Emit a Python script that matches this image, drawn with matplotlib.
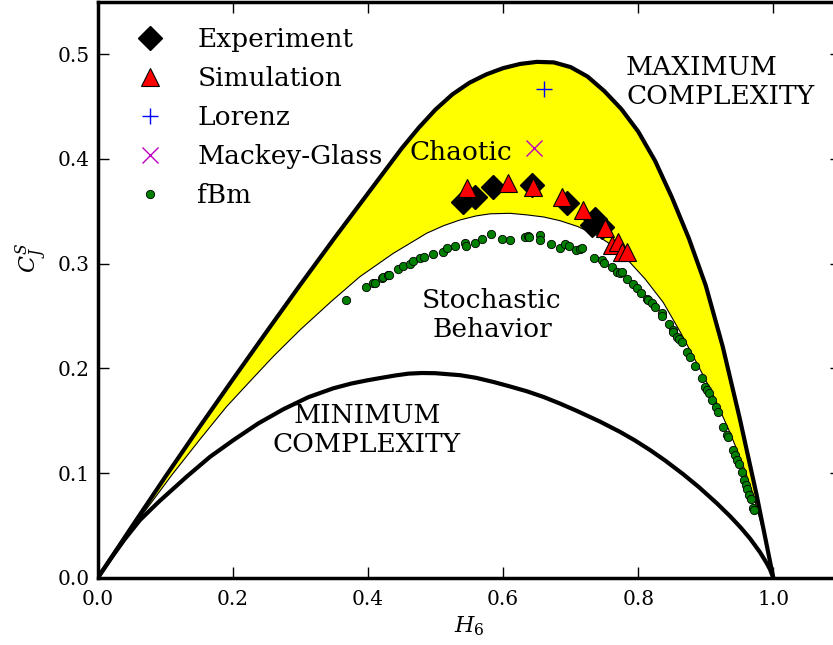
import matplotlib
matplotlib.use("Agg")
import matplotlib.pyplot as plt
import numpy as np

plt.rcParams["font.family"] = "serif"
plt.rcParams["font.serif"] = ["DejaVu Serif"]
plt.rcParams["mathtext.fontset"] = "dejavuserif"

# theoretical bounds of the complexity-entropy plane
max_h = [0.0, 0.05, 0.10, 0.15, 0.20, 0.25, 0.30, 0.35, 0.40, 0.45, 0.475, 0.50, 0.525,
         0.55, 0.575, 0.60, 0.625, 0.65, 0.675, 0.70, 0.725, 0.75, 0.775, 0.80, 0.825,
         0.85, 0.875, 0.90, 0.925, 0.95, 0.975, 1.0]
max_c = [0.0, 0.0485, 0.0965, 0.1435, 0.1895, 0.235, 0.280, 0.324, 0.367, 0.410, 0.4295,
         0.4470, 0.4615, 0.4725, 0.4805, 0.4865, 0.4905, 0.4925, 0.4920, 0.4875, 0.4785,
         0.4645, 0.4475, 0.426, 0.398, 0.363, 0.324, 0.279, 0.221, 0.153, 0.080, 0.0]

min_h = [0.0, 0.02, 0.04, 0.0626, 0.09, 0.1317, 0.166, 0.2007, 0.2377, 0.2747, 0.3117,
         0.3487, 0.375, 0.398, 0.42, 0.44, 0.46, 0.48, 0.50, 0.5366, 0.56, 0.586, 0.61,
         0.635, 0.66, 0.684, 0.71, 0.7435, 0.7731, 0.795, 0.8175, 0.84, 0.8668, 0.89,
         0.916, 0.936, 0.952, 0.9655, 0.98, 0.99, 0.995, 1.0]
min_c = [0.0, 0.019, 0.037, 0.0553, 0.0725, 0.0967, 0.1155, 0.1315, 0.1475, 0.161, 0.1725,
         0.181, 0.1855, 0.1885, 0.191, 0.1932, 0.195, 0.1956, 0.1954, 0.1935, 0.191, 0.187,
         0.1828, 0.1782, 0.1727, 0.1665, 0.1592, 0.1492, 0.1394, 0.1313, 0.1221, 0.112,
         0.0989, 0.0866, 0.0715, 0.0589, 0.0479, 0.0376, 0.0248, 0.0143, 0.0083, 0.0]

# fBm curve (lower edge of the chaotic band)
fbm_h = [0.0, 0.0675, 0.11, 0.151, 0.19, 0.223, 0.26, 0.30, 0.345, 0.388, 0.4375, 0.487,
         0.512, 0.536, 0.56, 0.5807, 0.61, 0.635, 0.66, 0.684, 0.71, 0.7386, 0.76, 0.783,
         0.81, 0.837, 0.862, 0.886, 0.91, 0.935, 0.955, 0.970, 0.985, 1.0]
fbm_c = [0.0, 0.0617, 0.0985, 0.132, 0.163, 0.186, 0.2115, 0.237, 0.2635, 0.2875, 0.3098,
         0.329, 0.3362, 0.3416, 0.3455, 0.3475, 0.348, 0.3465, 0.3445, 0.341, 0.3355, 0.327,
         0.318, 0.3045, 0.2855, 0.263, 0.235, 0.206, 0.176, 0.140, 0.108, 0.080, 0.044, 0.0]

exp_h = [0.541, 0.5585, 0.5856, 0.6424, 0.6942, 0.731, 0.736, 0.746]
exp_c = [0.359, 0.3638, 0.3734, 0.375, 0.3575, 0.3368, 0.343, 0.335]

sim_h = [0.547, 0.6078, 0.6439, 0.6868, 0.7188, 0.751, 0.7608, 0.7706, 0.7756, 0.783]
sim_c = [0.3718, 0.3772, 0.3728, 0.3638, 0.351, 0.3337, 0.3177, 0.3209, 0.3114, 0.3114]

lorenz_h, lorenz_c = [0.661], [0.4666]
mg_h, mg_c = [0.6458], [0.4106]

dots_h = [0.3675, 0.397, 0.408, 0.4104, 0.4204, 0.4218, 0.430, 0.4316, 0.445, 0.4524, 0.4622,
          0.467, 0.477, 0.4834, 0.4958, 0.5107, 0.5166, 0.5289, 0.5437, 0.545, 0.5585,
          0.5684, 0.5821, 0.598, 0.6103, 0.6325, 0.6374, 0.6389, 0.6547, 0.6547, 0.6705,
          0.6843, 0.6917, 0.698, 0.708, 0.7139, 0.7173, 0.7346, 0.746, 0.7494, 0.7608,
          0.7691, 0.773, 0.7756, 0.7839, 0.7928, 0.7987, 0.8037, 0.8126, 0.815, 0.82,
          0.8249, 0.8348, 0.8358, 0.846, 0.851, 0.852, 0.857, 0.861, 0.8644, 0.8718,
          0.8767, 0.884, 0.894, 0.8989, 0.9023, 0.9048, 0.9093, 0.9147, 0.9177, 0.926,
          0.931, 0.9325, 0.9399, 0.9433, 0.9467, 0.9492, 0.9532, 0.9566, 0.9596, 0.9615,
          0.9645, 0.9666, 0.9704, 0.9714]
dots_c = [0.2653, 0.278, 0.2818, 0.2818, 0.286, 0.2869, 0.289, 0.2891, 0.2946, 0.2977, 0.2993,
          0.3028, 0.305, 0.3066, 0.3089, 0.3114, 0.3146, 0.3168, 0.320, 0.3168, 0.3194,
          0.3232, 0.3282, 0.3232, 0.3225, 0.3257, 0.3263, 0.3257, 0.3273, 0.3225, 0.3187,
          0.3146, 0.3187, 0.3168, 0.313, 0.3136, 0.3152, 0.3056, 0.3034, 0.3009, 0.2965,
          0.2923, 0.2913, 0.2923, 0.2853, 0.2805, 0.2764, 0.2717, 0.2659, 0.2653, 0.2627,
          0.2589, 0.2526, 0.2503, 0.2424, 0.2366, 0.235, 0.2302, 0.228, 0.2255, 0.2159,
          0.2112, 0.2023, 0.1905, 0.1825, 0.1794, 0.1762, 0.1698, 0.1635, 0.1581, 0.1444,
          0.1364, 0.1342, 0.1221, 0.1174, 0.1126, 0.1088, 0.1008, 0.0935, 0.0887, 0.0846,
          0.0792, 0.0751, 0.0665, 0.065]

fig = plt.figure(figsize=(8.33, 6.45), dpi=100)
ax = fig.add_axes([0.1173, 0.1039, 0.8922, 0.8936])

band_x = np.concatenate([max_h, fbm_h[::-1]])
band_y = np.concatenate([max_c, fbm_c[::-1]])
ax.fill(band_x, band_y, color="#ffff00", lw=0, zorder=1)
ax.plot(fbm_h, fbm_c, color="k", lw=0.8, zorder=2)
ax.plot(max_h, max_c, color="k", lw=3, zorder=3, solid_joinstyle="round")
ax.plot(min_h, min_c, color="k", lw=3, zorder=3, solid_joinstyle="round")

ax.plot(exp_h, exp_c, "D", ls="none", color="k", ms=12.5, mec="k", zorder=5, label="Experiment")
ax.plot(sim_h, sim_c, "^", ls="none", color="r", ms=12.5, mec="k", mew=0.8, zorder=6, label="Simulation")
ax.plot(lorenz_h, lorenz_c, "+", ls="none", color="b", ms=12, mew=1, zorder=6, label="Lorenz")
ax.plot(mg_h, mg_c, "x", ls="none", color="m", ms=12, mew=1, zorder=6, label="Mackey-Glass")
ax.plot(dots_h, dots_c, "o", ls="none", color="g", ms=6, mec="k", mew=0.6, zorder=4, label="fBm")

ax.text(0.782, 0.499, "MAXIMUM\nCOMPLEXITY", ha="left", va="top", fontsize=19, zorder=7)
ax.text(0.462, 0.399, "Chaotic", ha="left", va="baseline", fontsize=19, zorder=7)
ax.text(0.5836, 0.277, "Stochastic\nBehavior", ha="center", va="top", fontsize=19, zorder=7)
ax.text(0.3986, 0.167, "MINIMUM\nCOMPLEXITY", ha="center", va="top", fontsize=19, zorder=7)

ax.set_xlim(0, 1.1)
ax.set_ylim(0, 0.55)
ax.set_xticks([0.0, 0.2, 0.4, 0.6, 0.8, 1.0])
ax.set_yticks([0.0, 0.1, 0.2, 0.3, 0.4, 0.5])
ax.set_xlabel("$H_6$", fontsize=16)
ax.set_ylabel("$C_J^S$", fontsize=16)
ax.yaxis.set_label_coords(-0.066, 0.555)
ax.tick_params(direction="in", length=8, width=1, top=True, right=True, labelsize=14.5)
ax.tick_params(axis="x", pad=8.5)
ax.tick_params(axis="y", pad=5.5)
for s in ax.spines.values():
    s.set_linewidth(2.5)

ax.legend(loc="upper left", numpoints=1, frameon=False, fontsize=19,
          handlelength=2.0, handletextpad=0.8, labelspacing=0.53, borderaxespad=0.58)

fig.savefig("out.png", dpi=100)
